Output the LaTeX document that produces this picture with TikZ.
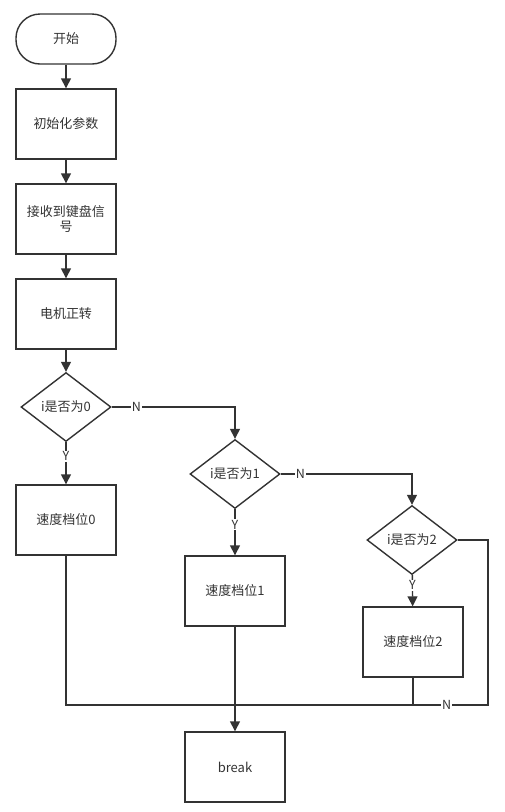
\documentclass[tikz,border=0pt]{standalone}
\usepackage{fontspec}
\setmainfont{Noto Sans CJK SC}
\usetikzlibrary{shapes.geometric,arrows.meta}
\definecolor{ln}{HTML}{333333}
\tikzset{
  every node/.style={font=\fontsize{13}{15.5}\selectfont, text=ln},
  proc/.style={draw=ln, line width=1.4pt, rectangle, minimum width=100pt, minimum height=70pt, inner sep=0pt, align=center},
  term/.style={draw=ln, line width=1.4pt, rectangle, rounded corners=24pt, minimum width=100pt, minimum height=50pt, inner sep=0pt},
  dec/.style={draw=ln, line width=1.4pt, diamond, aspect=1.28, minimum width=90pt, minimum height=69pt, inner sep=0pt},
  conn/.style={draw=ln, line width=1.4pt},
  arr/.style={conn, -{Triangle[length=10pt,width=10pt]}},
  lab/.style={fill=white, inner sep=1pt, font=\fontsize{12.5}{14}\selectfont}
}
\begin{document}
\begin{tikzpicture}[x=1pt,y=-1pt]
\useasboundingbox (0,0) rectangle (505,812);
\node[term] (start) at (66,39) {开始};
\node[proc] (init) at (66,124) {初始化参数};
\node[proc] (recv) at (66,219) {接收到键盘信\\号};
\node[proc] (motor) at (66,314) {电机正转};
\node[dec] (d0) at (66,407) {i是否为0};
\node[dec] (d1) at (235,474) {i是否为1};
\node[dec] (d2) at (412,540) {i是否为2};
\node[proc] (s0) at (66,520) {速度档位0};
\node[proc] (s1) at (235,591) {速度档位1};
\node[proc] (s2) at (413,642) {速度档位2};
\node[proc] (brk) at (235,767) {break};
\coordinate (m0) at (66,705);
\coordinate (m1) at (235,705);
\coordinate (m2) at (413,705);
\coordinate (r2) at (488,540);
\coordinate (r2b) at (488,705);
\draw[arr] (start) -- (init);
\draw[arr] (init) -- (recv);
\draw[arr] (recv) -- (motor);
\draw[arr] (motor) -- (d0);
\draw[arr] (d0) -- node[lab, pos=0.33] {Y} (s0);
\draw[arr] (d1) -- node[lab, pos=0.33] {Y} (s1);
\draw[arr] (d2) -- node[lab, pos=0.33] {Y} (s2);
\draw[arr] (d0.east) -- node[lab, pos=0.2] {N} (d0.east -| d1.north) -- (d1.north);
\draw[arr] (d1.east) -- node[lab, pos=0.15] {N} (d1.east -| d2.north) -- (d2.north);
\draw[conn] (d2.east) -- (r2) -- (r2b) -- node[lab, pos=0.55] {N} (m2) -- (m1);
\draw[conn] (s0) -- (m0) -- (m1);
\draw[conn] (s2) -- (m2);
\draw[arr] (s1) -- (brk);
\end{tikzpicture}
\end{document}
